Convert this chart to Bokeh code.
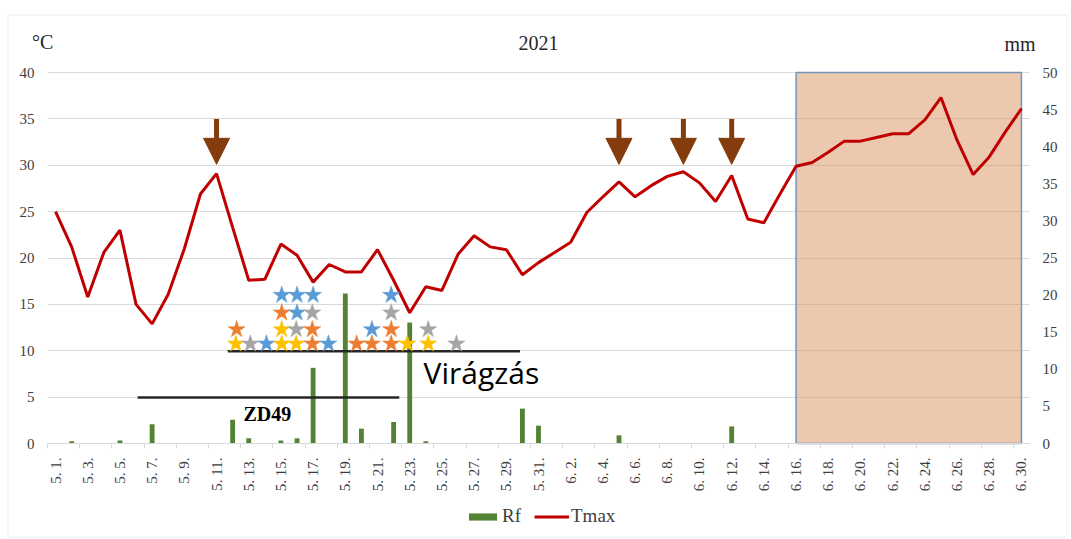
import math
from bokeh.plotting import figure
from bokeh.models import (Range1d, LinearAxis, FixedTicker, Label, Arrow, NormalHead,
                          ColumnDataSource, Legend, LegendItem, BoxAnnotation)
from bokeh.embed import file_html
from bokeh.resources import INLINE

# ---------------- data ----------------
may_days = ["5. %d." % d for d in range(1, 32)]
june_days = ["6. %d." % d for d in range(1, 31)]
dates = may_days + june_days

tmax_may = [25.0, 21.2, 15.8, 20.6, 23.0, 15.0, 12.9, 16.1, 21.0, 26.9, 29.1, 23.3, 17.6, 17.7,
            21.5, 20.3, 17.4, 19.3, 18.5, 18.5, 20.9, 17.6, 14.1, 16.9, 16.5, 20.4, 22.4, 21.2,
            20.9, 18.2, 19.5]
tmax_june = [20.6, 21.7, 24.9, 26.6, 28.2, 26.6, 27.8, 28.8, 29.3, 28.1, 26.1, 28.9, 24.2, 23.8,
             26.9, 29.9, 30.3, 31.4, 32.6, 32.6, 33.0, 33.4, 33.4, 34.9, 37.3, 32.7, 29.0, 30.9,
             33.6, 36.1]
tmax = tmax_may + tmax_june

rf_may = [0, 0.3, 0, 0, 0.4, 0, 2.6, 0, 0, 0, 0, 3.2, 0.7, 0, 0.4, 0.7, 10.2, 0, 20.2, 2.0,
          0, 2.9, 16.3, 0.3, 0, 0, 0, 0, 0, 4.7, 2.4]
rf_june = [0, 0, 0, 0, 1.1, 0, 0, 0, 0, 0, 0, 2.3, 0, 0, 0, 0, 0, 0, 0, 0, 0, 0, 0, 0, 0,
           0, 0, 0, 0, 0]
rf = rf_may + rf_june

temp_ticks = [0, 5, 10, 15, 20, 25, 30, 35, 40]
rf_ticks = [0, 5, 10, 15, 20, 25, 30, 35, 40, 45, 50]
temp_max, rf_max = 40, 50

# arrows (days marked)
arrow_days = ["5. 11.", "6. 5.", "6. 9.", "6. 12."]
arrow_top, arrow_tip = 35.0, 30.1

# shaded period
shade_from, shade_to = "6. 16.", "6. 30."

# stars: rows of (day position, colour)
star_row1_x = [11.2, 12.1, 13.1, 14.05, 14.95, 15.95, 16.95, 18.7, 19.65, 20.85, 21.85, 23.15, 24.9]
star_row1_c = ["y", "g", "b", "y", "y", "o", "b", "o", "o", "o", "y", "y", "g"]
star_row2_x = [11.25, 14.05, 14.95, 15.95, 19.65, 20.85, 23.15]
star_row2_c = ["o", "y", "g", "o", "b", "o", "g"]
star_row3_x = [14.05, 15.0, 15.95, 20.85]
star_row3_c = ["o", "b", "g", "g"]
star_row4_x = [14.05, 15.0, 16.0, 20.85]
star_row4_c = ["b", "b", "b", "b"]
star_levels = [10.75, 12.3, 14.1, 16.0]

# phases (start day pos, end day pos, level)
phase_names = ["ZD49", "Virágzás"]
phase_start = [5.1, 10.7]
phase_end = [21.35, 28.85]
phase_level = [4.95, 9.95]

title_text = "2021"
left_unit, right_unit = "°C", "mm"

# ---------------- layout (pixels) ----------------
W, H = 1071, 539
PL, PR, PT, PB = 47, 1029, 72, 443          # plot box inside the canvas
n = len(dates)
x_lo, x_hi = -0.5, n - 0.5
xs_ = (PR - PL) / (x_hi - x_lo)
ys_ = (PB - PT) / temp_max
rs_ = (PB - PT) / rf_max


def px_x(px):
    return x_lo + (px - PL) / xs_


def px_y(py):
    return (PB - py) / ys_


# ---------------- styling ----------------
BROWN = "#843C0C"
RED = "#C00000"
GREEN = "#548235"
GRID = "#D9D9D9"
TXT = "#404040"
SERIF = "Liberation Serif"
palette = {"y": "#FFC000", "g": "#A5A5A5", "b": "#5B9BD5", "o": "#ED7D31"}

idx = list(range(n))

p = figure(width=W, height=H, output_backend="svg", toolbar_location=None,
           x_range=Range1d(px_x(0), px_x(W)), y_range=Range1d(px_y(H), px_y(0)),
           min_border_left=0, min_border_right=0, min_border_top=0, min_border_bottom=0)
p.extra_y_ranges = {"rf": Range1d(-(H - PB) / rs_, PB / rs_)}
p.outline_line_color = None
p.background_fill_color = "white"
p.border_fill_color = "white"

# x axis (fixed at y = 0)
xax = p.xaxis[0]
xax.fixed_location = 0
xax.bounds = (x_lo, x_hi)
xax.ticker = FixedTicker(ticks=list(range(0, n, 2)),
                         minor_ticks=[k - 0.5 for k in range(0, n, 2)])
xax.major_label_overrides = {i: dates[i] for i in range(0, n, 2)}
xax.major_label_orientation = math.pi / 2
xax.axis_line_color = GRID
xax.major_tick_line_color = None
xax.major_tick_out = 0
xax.major_tick_in = 0
xax.minor_tick_line_color = GRID
xax.minor_tick_out = 5
xax.minor_tick_in = 0
xax.major_label_standoff = 9
xax.major_label_text_font = SERIF
xax.major_label_text_font_size = "15px"
xax.major_label_text_color = TXT

# y axes
yax = p.yaxis[0]
yax.ticker = FixedTicker(ticks=temp_ticks)
yax.fixed_location = x_lo
yax.bounds = (0, temp_max)
rax = LinearAxis(y_range_name="rf", ticker=FixedTicker(ticks=rf_ticks))
rax.fixed_location = x_hi
rax.bounds = (0, rf_max)
p.add_layout(rax, "right")
for ax in [yax, rax]:
    ax.axis_line_color = None
    ax.major_tick_line_color = None
    ax.minor_tick_line_color = None
    ax.major_tick_out = 0
    ax.major_label_standoff = 13
    ax.major_label_text_font = SERIF
    ax.major_label_text_font_size = "15px"
    ax.major_label_text_color = TXT

p.xgrid.grid_line_color = None
grid_ok = True
try:
    p.ygrid.ticker = FixedTicker(ticks=temp_ticks)
    p.ygrid.bounds = (0, temp_max)
    p.ygrid.cross_bounds = (x_lo, x_hi)
    p.ygrid.grid_line_color = GRID
except Exception:
    grid_ok = False
if not grid_ok:
    p.ygrid.grid_line_color = None
    p.segment(x0=[x_lo] * len(temp_ticks), x1=[x_hi] * len(temp_ticks), y0=temp_ticks,
              y1=temp_ticks, line_color=GRID, line_width=1, level="underlay")

# outer border of the chart area
p.add_layout(BoxAnnotation(left=px_x(7.5), right=px_x(1066.5), top=px_y(14.5), bottom=px_y(536.5),
                           fill_alpha=0, line_color=GRID, line_width=1.5, level="underlay"))

# shaded period
p.quad(left=[dates.index(shade_from)], right=[dates.index(shade_to)], bottom=[0], top=[temp_max],
       fill_color="#DD9B6D", fill_alpha=0.55, line_color="#7293BA", line_width=1.5)

# rainfall bars
bars = p.vbar(x=idx, top=rf, width=0.3, y_range_name="rf", fill_color=GREEN, line_color=None)

# phase lines
p.segment(x0=phase_start, x1=phase_end, y0=phase_level, y1=phase_level,
          line_color="#262626", line_width=2.5)

# Tmax line
tline = p.line(idx, tmax, line_color=RED, line_width=3)

# stars
sx, sy, sc = [], [], []
for xs, cs, lev in [(star_row1_x, star_row1_c, star_levels[0]),
                    (star_row2_x, star_row2_c, star_levels[1]),
                    (star_row3_x, star_row3_c, star_levels[2]),
                    (star_row4_x, star_row4_c, star_levels[3])]:
    for x, c in zip(xs, cs):
        sx.append(x)
        sy.append(lev)
        sc.append(palette[c])
p.scatter(x=sx, y=sy, marker="star", size=18, fill_color=sc, line_color=sc, line_width=0.5)

# arrows
ax_pos = [dates.index(d) for d in arrow_days]
asrc = ColumnDataSource(dict(x=ax_pos, y0=[arrow_top] * len(ax_pos), y1=[arrow_tip] * len(ax_pos)))
p.add_layout(Arrow(x_start="x", y_start="y0", x_end="x", y_end="y1", source=asrc,
                   line_color=BROWN, line_width=5,
                   end=NormalHead(size=26, fill_color=BROWN, line_color=BROWN, line_width=1)))

# texts (y given as pixel positions of the text baseline as rendered)
p.add_layout(Label(x=px_x(423), y=px_y(372), text=phase_names[1], text_font="Open Sans",
                   text_font_size="30px", text_color="black", text_align="left",
                   text_baseline="alphabetic"))
p.add_layout(Label(x=px_x(243), y=px_y(413.5), text=phase_names[0], text_font=SERIF,
                   text_font_size="20px", text_font_style="bold", text_color="black",
                   text_align="left", text_baseline="alphabetic"))
for txt, xpx, ypx, al in [(left_unit, 31.5, 41, "left"), (title_text, 538, 42, "center"),
                          (right_unit, 1019.5, 43, "center")]:
    p.add_layout(Label(x=px_x(xpx), y=px_y(ypx), text=txt, text_font=SERIF,
                       text_font_size="20px", text_color="#262626", text_align=al,
                       text_baseline="alphabetic"))

# legend
legend = Legend(items=[LegendItem(label="Rf", renderers=[bars]),
                       LegendItem(label="Tmax", renderers=[tline])],
                orientation="horizontal", location=(465, 539 - 527),
                glyph_width=35, glyph_height=9, label_standoff=2, spacing=12,
                padding=0, margin=0, border_line_color=None, background_fill_alpha=0,
                label_text_font=SERIF, label_text_font_size="19px", label_text_color=TXT)
p.add_layout(legend)

open("out.html", "w").write(file_html(p, INLINE))
